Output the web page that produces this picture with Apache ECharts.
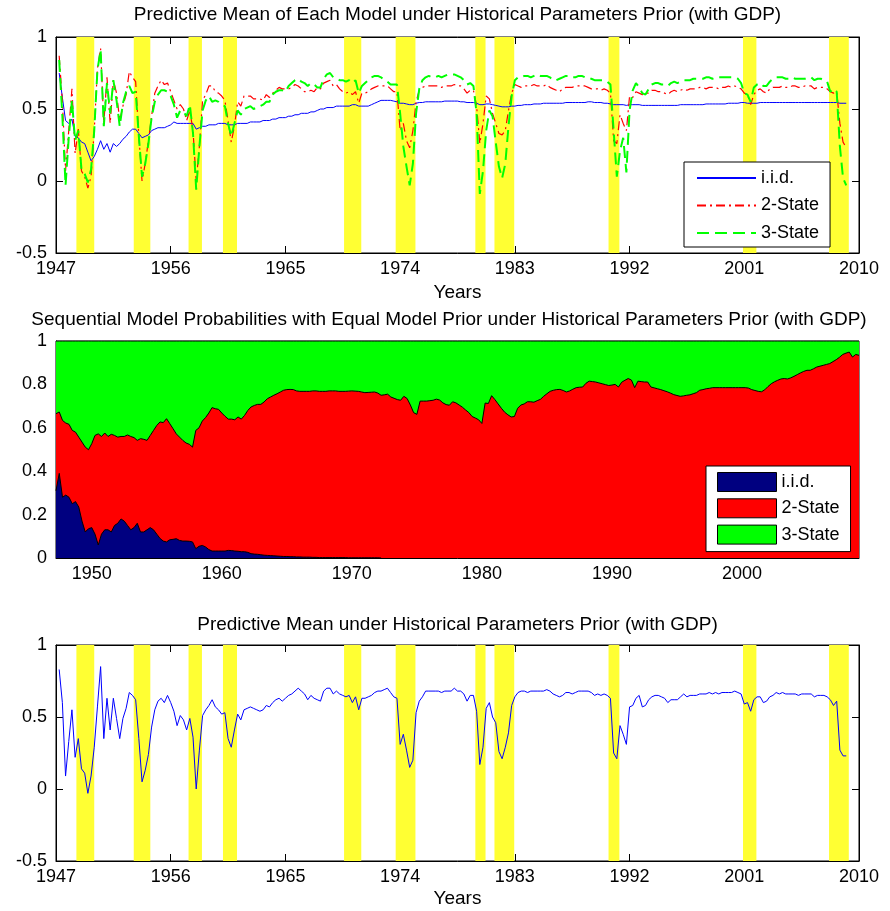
<!DOCTYPE html>
<html>
<head>
<meta charset="utf-8">
<script src="https://cdn.jsdelivr.net/npm/echarts@6/dist/echarts.min.js"></script>
<style>
  html, body { margin: 0; padding: 0; background: #fff; }
  #main { width: 890px; height: 911px; }
</style>
</head>
<body>
<div id="main"></div>
<script>
// quarterly observations, 1947Q2 .. 2009Q1 (248 quarters)
const iidMean = [
  0.75, 0.58, 0.42, 0.40, 0.43, 0.31, 0.30, 0.27, 0.26, 0.20, 0.14, 0.17, 0.22, 0.28, 0.22, 0.26, 0.20, 0.26, 0.24, 0.26,
  0.29, 0.31, 0.34, 0.36, 0.36, 0.33, 0.30, 0.31, 0.32, 0.35, 0.36, 0.37, 0.37, 0.37, 0.38, 0.39, 0.41, 0.40, 0.40, 0.40,
  0.40, 0.40, 0.40, 0.36, 0.37, 0.38, 0.38, 0.39, 0.39, 0.39, 0.40, 0.40, 0.40, 0.39, 0.39, 0.39, 0.40, 0.40, 0.40, 0.40,
  0.41, 0.41, 0.41, 0.41, 0.42, 0.42, 0.42, 0.43, 0.43, 0.44, 0.44, 0.44, 0.45, 0.45, 0.46, 0.46, 0.47, 0.47, 0.47, 0.48,
  0.48, 0.49, 0.50, 0.50, 0.51, 0.51, 0.51, 0.52, 0.52, 0.52, 0.52, 0.52, 0.53, 0.53, 0.52, 0.52, 0.52, 0.52, 0.53, 0.54,
  0.55, 0.56, 0.56, 0.56, 0.56, 0.555, 0.55, 0.54, 0.54, 0.535, 0.53, 0.53, 0.54, 0.545, 0.545, 0.55, 0.55, 0.55, 0.55, 0.55,
  0.55, 0.555, 0.555, 0.555, 0.555, 0.555, 0.55, 0.55, 0.545, 0.545, 0.545, 0.54, 0.53, 0.53, 0.535, 0.535, 0.53, 0.525, 0.52, 0.515,
  0.515, 0.515, 0.52, 0.52, 0.525, 0.525, 0.53, 0.53, 0.53, 0.535, 0.535, 0.535, 0.54, 0.54, 0.54, 0.54, 0.54, 0.54, 0.54, 0.545,
  0.545, 0.545, 0.545, 0.545, 0.545, 0.545, 0.55, 0.55, 0.545, 0.545, 0.545, 0.54, 0.54, 0.535, 0.53, 0.53, 0.53, 0.53, 0.525, 0.53,
  0.53, 0.53, 0.53, 0.525, 0.525, 0.525, 0.525, 0.525, 0.525, 0.525, 0.525, 0.525, 0.525, 0.525, 0.525, 0.53, 0.53, 0.53, 0.53, 0.53,
  0.53, 0.53, 0.53, 0.535, 0.535, 0.535, 0.535, 0.535, 0.535, 0.535, 0.54, 0.54, 0.54, 0.54, 0.545, 0.545, 0.54, 0.54, 0.54, 0.54,
  0.545, 0.545, 0.545, 0.545, 0.545, 0.545, 0.545, 0.545, 0.545, 0.545, 0.545, 0.545, 0.545, 0.545, 0.545, 0.545, 0.545, 0.545, 0.545, 0.545,
  0.545, 0.545, 0.545, 0.545, 0.545, 0.54, 0.54, 0.54
];
const twoStateMean = [
  0.87, 0.55, 0.07, 0.35, 0.64, 0.19, 0.36, 0.07, 0.03, -0.05, 0.03, 0.35, 0.78, 0.92, 0.40, 0.72, 0.40, 0.70, 0.61, 0.42,
  0.52, 0.60, 0.76, 0.72, 0.69, 0.31, 0.00, 0.12, 0.28, 0.45, 0.61, 0.66, 0.70, 0.67, 0.68, 0.62, 0.56, 0.50, 0.53, 0.50,
  0.42, 0.49, 0.35, 0.00, 0.24, 0.56, 0.60, 0.66, 0.66, 0.62, 0.61, 0.59, 0.56, 0.42, 0.27, 0.38, 0.55, 0.52, 0.59, 0.59,
  0.59, 0.57, 0.57, 0.57, 0.56, 0.60, 0.58, 0.61, 0.63, 0.65, 0.64, 0.64, 0.64, 0.65, 0.67, 0.66, 0.64, 0.62, 0.62, 0.63,
  0.62, 0.65, 0.64, 0.68, 0.69, 0.70, 0.66, 0.67, 0.64, 0.62, 0.61, 0.62, 0.60, 0.62, 0.54, 0.61, 0.61, 0.62, 0.64, 0.65,
  0.66, 0.66, 0.66, 0.66, 0.64, 0.62, 0.62, 0.35, 0.40, 0.28, 0.23, 0.35, 0.55, 0.63, 0.65, 0.66, 0.66, 0.66, 0.66, 0.66,
  0.65, 0.66, 0.66, 0.66, 0.67, 0.66, 0.66, 0.64, 0.61, 0.63, 0.63, 0.52, 0.26, 0.40, 0.59, 0.57, 0.47, 0.40, 0.33, 0.32,
  0.35, 0.49, 0.61, 0.67, 0.66, 0.65, 0.66, 0.66, 0.66, 0.67, 0.66, 0.66, 0.66, 0.67, 0.65, 0.64, 0.63, 0.62, 0.64, 0.65,
  0.65, 0.65, 0.66, 0.66, 0.66, 0.66, 0.65, 0.64, 0.64, 0.64, 0.63, 0.64, 0.63, 0.61, 0.28, 0.26, 0.46, 0.40, 0.35, 0.59,
  0.58, 0.62, 0.61, 0.60, 0.61, 0.61, 0.63, 0.63, 0.62, 0.62, 0.61, 0.60, 0.62, 0.63, 0.62, 0.63, 0.64, 0.63, 0.64, 0.64,
  0.64, 0.65, 0.65, 0.64, 0.65, 0.65, 0.65, 0.64, 0.65, 0.65, 0.66, 0.65, 0.66, 0.65, 0.64, 0.61, 0.60, 0.53, 0.60, 0.63,
  0.64, 0.62, 0.61, 0.64, 0.65, 0.65, 0.65, 0.66, 0.65, 0.65, 0.66, 0.66, 0.65, 0.65, 0.66, 0.66, 0.66, 0.64, 0.65, 0.65,
  0.65, 0.64, 0.62, 0.61, 0.62, 0.40, 0.27, 0.23
];
const threeStateMean = [
  0.84, 0.45, -0.03, 0.30, 0.56, 0.28, 0.35, 0.08, 0.05, -0.01, 0.08, 0.35, 0.77, 0.91, 0.38, 0.68, 0.47, 0.70, 0.56, 0.38,
  0.54, 0.62, 0.66, 0.61, 0.62, 0.31, 0.03, 0.12, 0.26, 0.44, 0.55, 0.60, 0.63, 0.63, 0.62, 0.59, 0.53, 0.44, 0.49, 0.48,
  0.45, 0.53, 0.33, -0.06, 0.24, 0.49, 0.56, 0.59, 0.55, 0.56, 0.55, 0.53, 0.52, 0.40, 0.31, 0.40, 0.49, 0.46, 0.50, 0.51,
  0.52, 0.50, 0.51, 0.52, 0.53, 0.55, 0.55, 0.60, 0.62, 0.63, 0.63, 0.62, 0.66, 0.68, 0.70, 0.71, 0.69, 0.68, 0.66, 0.68,
  0.67, 0.65, 0.65, 0.71, 0.74, 0.75, 0.72, 0.71, 0.70, 0.70, 0.69, 0.70, 0.68, 0.70, 0.61, 0.66, 0.68, 0.70, 0.72, 0.73,
  0.73, 0.72, 0.70, 0.69, 0.67, 0.67, 0.67, 0.47, 0.24, 0.10, -0.03, 0.12, 0.47, 0.64, 0.70, 0.72, 0.73, 0.72, 0.72, 0.73,
  0.72, 0.73, 0.74, 0.74, 0.74, 0.73, 0.72, 0.70, 0.67, 0.68, 0.66, 0.47, -0.09, 0.07, 0.35, 0.49, 0.45, 0.27, 0.10, 0.02,
  0.12, 0.38, 0.59, 0.70, 0.72, 0.72, 0.73, 0.73, 0.72, 0.73, 0.74, 0.73, 0.73, 0.73, 0.72, 0.70, 0.70, 0.71, 0.72, 0.73,
  0.73, 0.72, 0.72, 0.73, 0.73, 0.72, 0.71, 0.71, 0.70, 0.70, 0.70, 0.70, 0.69, 0.67, 0.35, 0.03, 0.21, 0.30, 0.06, 0.49,
  0.63, 0.68, 0.65, 0.61, 0.60, 0.64, 0.67, 0.68, 0.68, 0.67, 0.67, 0.66, 0.68, 0.69, 0.68, 0.69, 0.70, 0.70, 0.70, 0.71,
  0.71, 0.71, 0.71, 0.72, 0.72, 0.71, 0.72, 0.72, 0.72, 0.72, 0.72, 0.72, 0.72, 0.71, 0.68, 0.61, 0.60, 0.55, 0.65, 0.67,
  0.68, 0.66, 0.66, 0.69, 0.71, 0.72, 0.72, 0.72, 0.71, 0.71, 0.72, 0.71, 0.71, 0.71, 0.71, 0.72, 0.72, 0.70, 0.71, 0.71,
  0.70, 0.69, 0.62, 0.64, 0.62, 0.24, 0.02, -0.03
];
// model probabilities: i.i.d. share (negligible after 1972) and i.i.d. + 2-State cumulated
const iidProb = [
  0.31, 0.39, 0.28, 0.29, 0.28, 0.25, 0.26, 0.235, 0.17, 0.12, 0.135, 0.14, 0.11, 0.06, 0.11, 0.13, 0.13, 0.12, 0.15, 0.16,
  0.18, 0.17, 0.15, 0.13, 0.14, 0.16, 0.12, 0.12, 0.13, 0.14, 0.13, 0.11, 0.09, 0.078, 0.074, 0.084, 0.086, 0.089, 0.081, 0.078,
  0.078, 0.077, 0.074, 0.043, 0.054, 0.058, 0.051, 0.039, 0.032, 0.032, 0.032, 0.032, 0.032, 0.035, 0.034, 0.032, 0.031, 0.029, 0.029, 0.026,
  0.020, 0.018, 0.017, 0.015, 0.013, 0.012, 0.011, 0.010, 0.009, 0.008, 0.007, 0.007, 0.006, 0.006, 0.005, 0.005, 0.004, 0.004, 0.004, 0.003,
  0.003, 0.002, 0.002, 0.002, 0.002, 0.002, 0.002, 0.002, 0.002, 0.002, 0.001, 0.001, 0.001, 0.001, 0.001, 0.001, 0.001, 0.001, 0.001, 0.001,
  0
];
const twoStateTop = [
  0.665, 0.673, 0.634, 0.622, 0.616, 0.588, 0.580, 0.557, 0.534, 0.511, 0.499, 0.527, 0.565, 0.572, 0.560, 0.576, 0.560, 0.570, 0.565, 0.557,
  0.560, 0.560, 0.567, 0.560, 0.555, 0.542, 0.550, 0.547, 0.542, 0.565, 0.588, 0.611, 0.627, 0.624, 0.642, 0.619, 0.596, 0.572, 0.557, 0.542,
  0.530, 0.524, 0.511, 0.588, 0.600, 0.631, 0.647, 0.668, 0.693, 0.688, 0.685, 0.668, 0.653, 0.640, 0.640, 0.637, 0.650, 0.640, 0.657, 0.680,
  0.696, 0.703, 0.708, 0.708, 0.719, 0.734, 0.742, 0.750, 0.757, 0.765, 0.773, 0.776, 0.777, 0.776, 0.770, 0.768, 0.768, 0.768, 0.768, 0.770,
  0.770, 0.768, 0.768, 0.768, 0.770, 0.770, 0.770, 0.768, 0.768, 0.768, 0.769, 0.770, 0.769, 0.768, 0.765, 0.762, 0.763, 0.764, 0.765, 0.760,
  0.750, 0.752, 0.755, 0.742, 0.736, 0.730, 0.727, 0.745, 0.735, 0.705, 0.670, 0.662, 0.723, 0.723, 0.723, 0.725, 0.727, 0.732, 0.728, 0.715,
  0.707, 0.704, 0.720, 0.715, 0.705, 0.695, 0.682, 0.670, 0.652, 0.645, 0.637, 0.620, 0.714, 0.712, 0.748, 0.730, 0.710, 0.690, 0.672, 0.660,
  0.650, 0.652, 0.690, 0.705, 0.710, 0.720, 0.720, 0.718, 0.725, 0.731, 0.745, 0.757, 0.768, 0.773, 0.776, 0.777, 0.772, 0.765, 0.770, 0.778,
  0.785, 0.787, 0.788, 0.805, 0.815, 0.813, 0.811, 0.807, 0.803, 0.799, 0.795, 0.797, 0.800, 0.788, 0.810, 0.819, 0.827, 0.820, 0.785, 0.815,
  0.813, 0.811, 0.811, 0.788, 0.784, 0.780, 0.776, 0.771, 0.766, 0.760, 0.753, 0.749, 0.745, 0.747, 0.750, 0.752, 0.757, 0.762, 0.773, 0.776,
  0.780, 0.782, 0.785, 0.785, 0.785, 0.785, 0.785, 0.785, 0.785, 0.785, 0.785, 0.785, 0.785, 0.783, 0.776, 0.772, 0.768, 0.766, 0.775, 0.790,
  0.803, 0.812, 0.819, 0.825, 0.827, 0.825, 0.830, 0.837, 0.845, 0.853, 0.860, 0.865, 0.865, 0.872, 0.880, 0.884, 0.888, 0.892, 0.896, 0.905,
  0.914, 0.925, 0.938, 0.944, 0.949, 0.926, 0.938, 0.934
];
const predMean = [
  0.83, 0.60, 0.09, 0.33, 0.55, 0.22, 0.35, 0.14, 0.11, -0.03, 0.09, 0.29, 0.57, 0.85, 0.35, 0.63, 0.41, 0.63, 0.49, 0.35,
  0.49, 0.56, 0.67, 0.65, 0.62, 0.35, 0.05, 0.13, 0.24, 0.43, 0.55, 0.61, 0.63, 0.60, 0.65, 0.60, 0.54, 0.44, 0.51, 0.48,
  0.41, 0.49, 0.36, 0.00, 0.27, 0.51, 0.55, 0.58, 0.62, 0.57, 0.55, 0.52, 0.53, 0.35, 0.29, 0.41, 0.52, 0.48, 0.55, 0.56,
  0.57, 0.56, 0.55, 0.54, 0.55, 0.58, 0.57, 0.60, 0.62, 0.63, 0.61, 0.63, 0.65, 0.66, 0.68, 0.70, 0.68, 0.66, 0.62, 0.65,
  0.63, 0.62, 0.61, 0.68, 0.70, 0.70, 0.66, 0.68, 0.66, 0.65, 0.64, 0.65, 0.60, 0.64, 0.55, 0.63, 0.63, 0.64, 0.65, 0.67,
  0.68, 0.68, 0.69, 0.70, 0.67, 0.64, 0.63, 0.31, 0.38, 0.27, 0.15, 0.20, 0.53, 0.61, 0.64, 0.68, 0.68, 0.68, 0.68, 0.68,
  0.67, 0.68, 0.68, 0.68, 0.70, 0.68, 0.68, 0.66, 0.61, 0.65, 0.65, 0.54, 0.17, 0.29, 0.56, 0.60, 0.50, 0.46, 0.26, 0.21,
  0.29, 0.39, 0.58, 0.64, 0.67, 0.68, 0.68, 0.67, 0.68, 0.68, 0.68, 0.68, 0.68, 0.69, 0.68, 0.66, 0.65, 0.64, 0.65, 0.67,
  0.67, 0.66, 0.67, 0.68, 0.68, 0.68, 0.68, 0.67, 0.65, 0.66, 0.65, 0.66, 0.65, 0.63, 0.25, 0.21, 0.44, 0.38, 0.31, 0.57,
  0.58, 0.63, 0.65, 0.57, 0.58, 0.62, 0.64, 0.65, 0.65, 0.64, 0.63, 0.60, 0.62, 0.62, 0.62, 0.64, 0.66, 0.64, 0.65, 0.65,
  0.65, 0.66, 0.66, 0.66, 0.67, 0.66, 0.67, 0.66, 0.67, 0.67, 0.67, 0.67, 0.68, 0.67, 0.66, 0.59, 0.60, 0.54, 0.62, 0.64,
  0.64, 0.60, 0.61, 0.64, 0.65, 0.67, 0.66, 0.67, 0.66, 0.66, 0.66, 0.66, 0.65, 0.66, 0.66, 0.66, 0.66, 0.64, 0.65, 0.65,
  0.65, 0.64, 0.62, 0.58, 0.61, 0.27, 0.23, 0.23
];
// shaded recession periods (start, end), in years
const recessions = [
  [1948.6, 1950.0], [1953.1, 1954.4], [1957.4, 1958.45], [1960.1, 1961.2],
  [1969.6, 1970.95], [1973.65, 1975.2], [1979.9, 1980.7], [1981.4, 1982.95],
  [1990.35, 1991.2], [2000.9, 2001.95], [2007.65, 2009.2]
];
const decadeTicks = [1950, 1960, 1970, 1980, 1990, 2000];

const quarters = predMean.map((_, i) => 1947.25 + i * 0.25);
const pairs = arr => arr.map((v, i) => [quarters[i], v]);

const FONT = '"Liberation Sans", Arial, Helvetica, sans-serif';
const midNames = { 'p-iid': 'i.i.d.', 'p-two': '2-State', 'p-three': '3-State' };

const chart = echarts.init(document.getElementById('main'), null, { renderer: 'canvas' });

const gridBase = {
  left: 56, right: 31, show: true, borderColor: '#000', borderWidth: 1,
  backgroundColor: '#fff', containLabel: false, outerBoundsMode: 'none'
};

const tickStyle = { show: true, inside: true, length: 7, lineStyle: { color: '#000', width: 1 } };

const yearAxis = (gridIndex, position, labels) => ({
  type: 'value', gridIndex, position, min: 1947, max: 2010, interval: 9,
  axisLine: { show: true, onZero: false, lineStyle: { color: '#000' } },
  axisTick: tickStyle,
  axisLabel: {
    show: labels, color: '#000', fontSize: 18, fontFamily: FONT, margin: 7,
    showMinLabel: true, showMaxLabel: true, formatter: v => String(v)
  },
  splitLine: { show: false }
});

const meanAxis = (gridIndex, position, labels) => ({
  type: 'value', gridIndex, position, min: -0.5, max: 1, interval: 0.5,
  axisLine: { show: true, onZero: false, lineStyle: { color: '#000' } },
  axisTick: tickStyle,
  axisLabel: { show: labels, color: '#000', fontSize: 18, fontFamily: FONT, margin: 9, showMinLabel: true, showMaxLabel: true },
  splitLine: { show: false }
});

const bands = (xIdx, yIdx) => ({
  type: 'line', xAxisIndex: xIdx, yAxisIndex: yIdx, data: [], silent: true, z: 1,
  markArea: {
    silent: true,
    itemStyle: { color: '#ffff33', opacity: 1 },
    data: recessions.map(r => [{ xAxis: r[0] }, { xAxis: r[1] }])
  }
});

const meanLine = (name, data, color, width, type, z) => ({
  name, type: 'line', xAxisIndex: 0, yAxisIndex: 0, data: pairs(data),
  symbol: 'none', showSymbol: false, z, animation: false,
  itemStyle: { color },
  lineStyle: { color, width, type }
});

const areaLayer = (name, data, color, z) => ({
  name, type: 'line', xAxisIndex: 2, yAxisIndex: 2, data,
  symbol: 'none', showSymbol: false, z, animation: false,
  itemStyle: { color },
  lineStyle: { color: '#000', width: 1 },
  areaStyle: { color, opacity: 1 }
});

const titleText = (x, y, text) => ({
  type: 'text', x, y,
  style: { text, fill: '#000', font: '19px ' + FONT, align: 'center', verticalAlign: 'middle' }
});

const option = {
  animation: false,
  backgroundColor: '#fff',
  textStyle: { fontFamily: FONT },
  grid: [
    Object.assign({ top: 37, height: 216 }, gridBase),
    Object.assign({ top: 341, height: 217 }, gridBase),
    Object.assign({ top: 645, height: 216 }, gridBase)
  ],
  xAxis: [
    yearAxis(0, 'bottom', true),
    yearAxis(0, 'top', false),
    {
      type: 'value', gridIndex: 1, position: 'bottom', min: 1947.25, max: 2009,
      axisLine: { show: true, onZero: false, lineStyle: { color: '#000' } },
      axisTick: { show: false },
      axisLabel: { color: '#000', fontSize: 18, fontFamily: FONT, margin: 7, customValues: decadeTicks, formatter: v => String(v) },
      splitLine: { show: false }
    },
    yearAxis(2, 'bottom', true),
    yearAxis(2, 'top', false)
  ],
  yAxis: [
    meanAxis(0, 'left', true),
    meanAxis(0, 'right', false),
    {
      type: 'value', gridIndex: 1, min: 0, max: 1, interval: 0.2,
      axisLine: { show: true, onZero: false, lineStyle: { color: '#000' } },
      axisTick: { show: false },
      axisLabel: { color: '#000', fontSize: 18, fontFamily: FONT, margin: 9 },
      splitLine: { show: false }
    },
    meanAxis(2, 'left', true),
    meanAxis(2, 'right', false)
  ],
  legend: [
    {
      data: ['i.i.d.', '2-State', '3-State'],
      orient: 'vertical', left: 684, top: 162,
      backgroundColor: '#fff', borderColor: '#000', borderWidth: 1,
      padding: [6, 11, 4, 12], itemGap: 7.5, itemWidth: 59, itemHeight: 14,
      selectedMode: false,
      itemStyle: { opacity: 0 },
      textStyle: { fontSize: 18, color: '#000', fontFamily: FONT, lineHeight: 20 }
    },
    {
      data: ['p-iid', 'p-two', 'p-three'],
      orient: 'vertical', left: 706, top: 466,
      backgroundColor: '#fff', borderColor: '#000', borderWidth: 1,
      padding: [6, 11, 7, 11], itemGap: 6.3, itemWidth: 59, itemHeight: 19,
      icon: 'rect', selectedMode: false,
      itemStyle: { borderColor: '#000', borderWidth: 1 },
      formatter: n => midNames[n],
      textStyle: { fontSize: 18, color: '#000', fontFamily: FONT, lineHeight: 20 }
    }
  ],
  graphic: [
    titleText(457.5, 15, 'Predictive Mean of Each Model under Historical Parameters Prior (with GDP)'),
    titleText(457.5, 293, 'Years'),
    titleText(449, 320, 'Sequential Model Probabilities with Equal Model Prior under Historical Parameters Prior (with GDP)'),
    titleText(457.5, 625, 'Predictive Mean under Historical Parameters Prior (with GDP)'),
    titleText(457.5, 899, 'Years')
  ],
  series: [
    bands(0, 0),
    meanLine('i.i.d.', iidMean, '#0000ff', 1, 'solid', 2),
    meanLine('2-State', twoStateMean, '#ff0000', 1.2, [9, 4, 2, 4], 3),
    meanLine('3-State', threeStateMean, '#00ff00', 2, [12, 6], 4),
    // middle panel: layers painted from the top of the stack down
    areaLayer('p-three', quarters.map(x => [x, 1]), '#00ff00', 2),
    areaLayer('p-two', pairs(twoStateTop), '#ff0000', 3),
    areaLayer('p-iid', pairs(iidProb), '#000080', 4),
    bands(3, 3),
    {
      name: 'mean', type: 'line', xAxisIndex: 3, yAxisIndex: 3, data: pairs(predMean),
      symbol: 'none', showSymbol: false, z: 2,
      lineStyle: { color: '#0000ff', width: 1 }, itemStyle: { color: '#0000ff' }
    }
  ]
};

chart.setOption(option);
</script>
</body>
</html>
